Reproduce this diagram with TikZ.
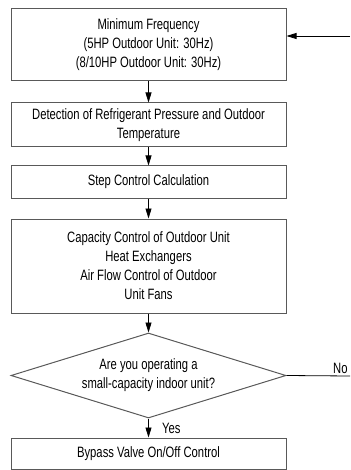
\documentclass[tikz,border=0pt]{standalone}
\usepackage{fontspec}
\setmainfont{Liberation Sans}[FakeStretch=0.75]
\usetikzlibrary{shapes.geometric,arrows.meta}
\tikzset{
    procbox/.style={draw=black!65, line width=1pt, minimum width=275pt, inner sep=0pt,
        align=center, font=\fontsize{15}{19}\selectfont},
    askbox/.style={procbox, shape=diamond, aspect=3.24, minimum height=85pt},
    flow/.style={-{Triangle[length=10pt,width=6pt]}, line width=0.8pt},
}
\begin{document}
\begin{tikzpicture}[x=1pt, y=-1pt]
        \useasboundingbox (0,0) rectangle (350,470);
        \node [procbox, minimum height=72pt] (freq) at (148.5,45) {Minimum Frequency\\(5HP Outdoor Unit: 30Hz)\\(8/10HP Outdoor Unit: 30Hz)};
        \node [procbox, minimum height=44pt] (detect) at (148.5,125) {Detection of Refrigerant Pressure and Outdoor\\Temperature};
        \node [procbox, minimum height=32pt] (calc) at (148.5,182) {Step Control Calculation};
        \node [procbox, minimum height=94pt] (capa) at (148.5,266) {Capacity Control of Outdoor Unit\\Heat Exchangers\\Air Flow Control of Outdoor\\Unit Fans};
        \node [askbox] (ask) at (148.5,375.5) {Are you operating a\\small-capacity indoor unit?};
        \node [procbox, minimum height=31pt] (bypass) at (148.5,453.5) {Bypass Valve On/Off Control};
        \coordinate (back) at (350,36);
        \coordinate (noend) at (350,376);
        \draw [flow] (back) -- (back -| freq.east);
        \draw [flow] (freq) -- (detect);
        \draw [flow] (detect) -- (calc);
        \draw [flow] (calc) -- (capa);
        \draw [flow] (capa) -- (ask);
        \draw [flow] (ask) -- (bypass) node[midway, right, xshift=10pt, font=\fontsize{15}{19}\selectfont] {Yes};
        \draw [line width=0.8pt] (ask.east) -- (noend) node[anchor=south east, inner sep=2pt, font=\fontsize{15}{19}\selectfont] {No};
    \end{tikzpicture}
\end{document}
